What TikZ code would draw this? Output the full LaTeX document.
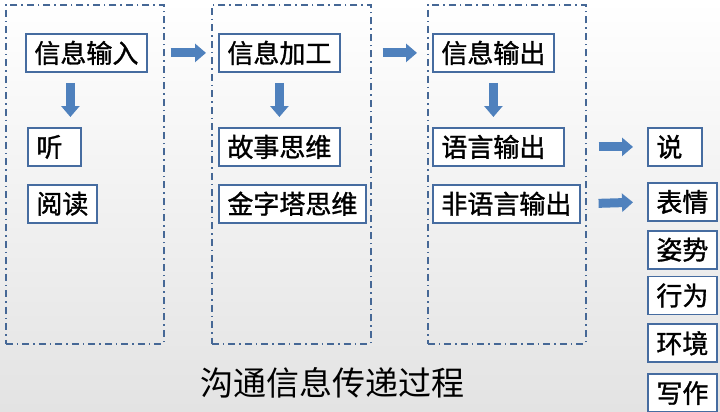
\documentclass[tikz,border=0pt]{standalone}
\usepackage{fontspec}
\setmainfont{Noto Sans CJK SC}
\newfontfamily\boxfont[FakeBold=1.2]{Noto Sans CJK SC}
\usepackage{xcolor}
\definecolor{arrowblue}{RGB}{79, 129, 189}
\definecolor{boxblue}{RGB}{70, 108, 160}
\definecolor{frameblue}{RGB}{70, 104, 150}
\tikzset{
  box/.style={
    rectangle, draw=boxblue, line width=1.8pt,
    fill=white, text=black, font=\boxfont\fontsize{26pt}{28pt}\selectfont,
    minimum height=38pt, inner xsep=8.5pt, inner ysep=0pt,
    anchor=north west
  },
  padbox/.style={box, text width=#1, align=left},
  frame/.style={
    rectangle, draw=frameblue, line width=1.6pt,
    dash pattern=on 7pt off 4pt on 1.5pt off 4pt,
    anchor=north west, inner sep=0pt
  },
  flow/.style={
    draw=arrowblue, line width=9pt,
    -{Triangle[length=11pt, width=18pt]}
  }
}
\usepackage{tikz}
\usetikzlibrary{arrows.meta, positioning}

\begin{document}
\begin{tikzpicture}[x=1pt, y=-1pt, node distance=8pt]

  % --- fond ---
  \shade[top color=white, bottom color=black!11] (0,0) rectangle (720,412);
  \useasboundingbox (0,0) rectangle (720,412);

  % --- cadres ---
  \node[frame, minimum width=158pt, minimum height=339pt] (f1) at (5,4) {};
  \node[frame, minimum width=159pt, minimum height=339pt] (f2) at (211,4) {};
  \node[frame, minimum width=158pt, minimum height=339pt] (f3) at (427,4) {};

  % --- entree ---
  \node[box] (input) at (25,33) {信息输入};
  \node[padbox=36pt] (listen) at (27,127) {听};
  \node[box, below=17pt of listen.south west, anchor=north west] (read) {阅读};

  % --- traitement ---
  \node[box] (proc) at (218,33) {信息加工};
  \node[box] (story) at (218,127) {故事思维};
  \node[box, below=17pt of story.south west, anchor=north west] (pyramid) {金字塔思维};

  % --- sortie ---
  \node[box] (output) at (432,33) {信息输出};
  \node[padbox=114pt] (verbal) at (432,127) {语言输出};
  \node[box, below=17pt of verbal.south west, anchor=north west] (nonverbal) {非语言输出};

  \node[padbox=37pt] (speak) at (647,127) {说};
  \node[box] (face) at (647,182) {表情};
  \node[box, below=of face.south west, anchor=north west] (pose) {姿势};
  \node[box, below=6pt of pose.south west, anchor=north west] (act) {行为};
  \node[box, below=of act.south west, anchor=north west] (env) {环境};
  \node[box, below=10pt of env.south west, anchor=north west] (write) {写作};

  \node[font=\fontsize{33pt}{35pt}\selectfont] (title) at (332,383) {沟通信息传递过程};

  % --- fleches ---
  \draw[flow, shorten <=6pt, shorten >=5pt] (f1.east |- input) -- (f2.west |- input);
  \draw[flow, shorten <=11pt, shorten >=10pt] (f2.east |- input) -- (f3.west |- input);
  \draw[flow, shorten <=10pt, shorten >=10pt] ([xshift=-16pt]input.south) -- ([xshift=-16pt]input.south |- listen.north);
  \draw[flow, shorten <=10pt, shorten >=10pt] (proc.south) -- (proc.south |- story.north);
  \draw[flow, shorten <=10pt, shorten >=10pt] (output.south) -- (output.south |- verbal.north);
  \draw[flow, shorten <=12pt, shorten >=14pt] (f3.east |- verbal) -- (speak.west);
  \draw[flow, shorten <=12pt, shorten >=14pt] (f3.east |- nonverbal) -- (face.west);

\end{tikzpicture}
\end{document}
